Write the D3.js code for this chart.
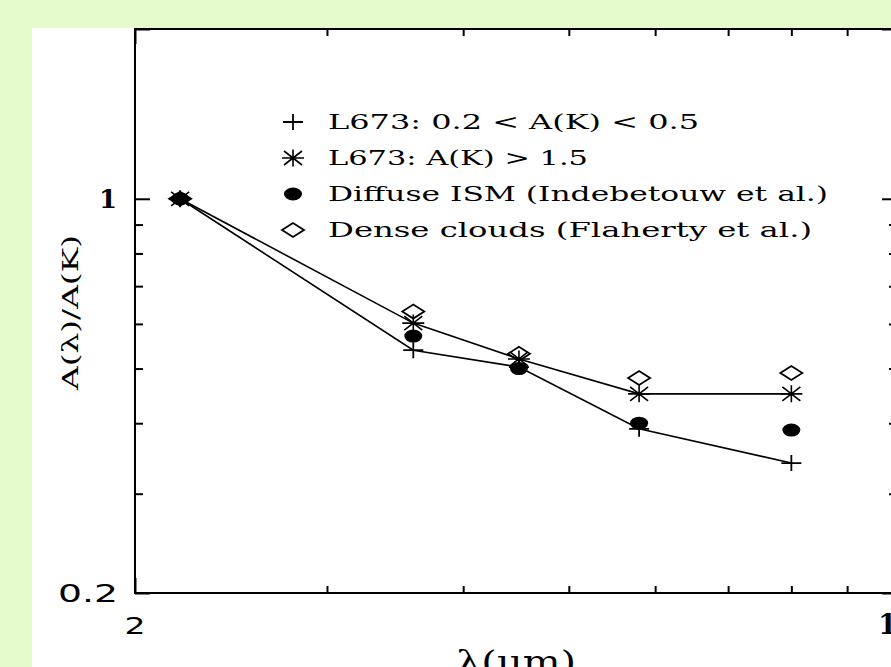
<!DOCTYPE html>
<html><head><meta charset="utf-8">
<script src="https://cdn.jsdelivr.net/npm/d3@7/dist/d3.min.js"></script>
<style>html,body{margin:0;padding:0;background:#e6fbcc;overflow:hidden}</style>
</head><body>
<script>
const wavelength = [2.2, 3.6, 4.5, 5.8, 8.0];
const lowAK   = [1, 0.539, 0.503, 0.391, 0.340];
const highAK  = [1, 0.602, 0.520, 0.451, 0.451];
const diffuse = [1, 0.571, 0.500, 0.400, 0.389];
const dense   = [1, 0.631, 0.531, 0.481, 0.491];
const xMajor = [2, 10], xMajorLabels = ["2", "10"];
const xMinor = [3, 4, 5, 6, 7, 8, 9];
const yMajor = [0.2, 1, 2], yMajorLabels = ["0.2", "1", ""];
const yMinor = [0.3, 0.4, 0.5, 0.6, 0.7, 0.8, 0.9];
const legendLabels = ["L673: 0.2 < A(K) < 0.5", "L673: A(K) > 1.5",
  "Diffuse ISM (Indebetouw et al.)", "Dense clouds (Flaherty et al.)"];

const W = 891, H = 667;
const L = 135, R = 897, T = 29, B = 593;
const svg = d3.select("body").append("svg").attr("width", W).attr("height", H);
svg.append("rect").attr("width", W).attr("height", H).attr("fill", "#e6fbcc");
svg.append("rect").attr("x", 32).attr("y", 28).attr("width", W).attr("height", H).attr("fill", "#fff");

const x = d3.scaleLog().domain([2, 10]).range([L, R]);
const y = d3.scaleLog().domain([0.2, 2]).range([B, T]);

// frame
svg.append("rect").attr("x", L).attr("y", T).attr("width", R - L).attr("height", B - T)
  .attr("fill", "none").attr("stroke", "#000").attr("stroke-width", 2);

function styleAxis(g){ g.select(".domain").remove(); g.selectAll("text").remove();
  g.selectAll("line").attr("stroke", "#000").attr("stroke-width", 2); }
svg.append("g").attr("transform", `translate(${L},0)`).call(d3.axisLeft(y).tickValues(yMajor).tickSize(-15)).call(styleAxis);
svg.append("g").attr("transform", `translate(${L},0)`).call(d3.axisLeft(y).tickValues(yMinor).tickSize(-8)).call(styleAxis);
svg.append("g").attr("transform", `translate(${R},0)`).call(d3.axisRight(y).tickValues(yMajor).tickSize(-15)).call(styleAxis);
svg.append("g").attr("transform", `translate(${R},0)`).call(d3.axisRight(y).tickValues(yMinor).tickSize(-8)).call(styleAxis);
svg.append("g").attr("transform", `translate(0,${B})`).call(d3.axisBottom(x).tickValues(xMajor).tickSize(-15)).call(styleAxis);
svg.append("g").attr("transform", `translate(0,${B})`).call(d3.axisBottom(x).tickValues(xMinor).tickSize(-7)).call(styleAxis);
svg.append("g").attr("transform", `translate(0,${T})`).call(d3.axisTop(x).tickValues(xMajor).tickSize(-15)).call(styleAxis);
svg.append("g").attr("transform", `translate(0,${T})`).call(d3.axisTop(x).tickValues(xMinor).tickSize(-7)).call(styleAxis);

// tick labels
yMajor.forEach((v, i) => {
  const s = yMajorLabels[i]; if (!s) return;
  const t = svg.append("text").attr("y", y(v) + 9).attr("text-anchor", "end").text(s);
  if (s === "1") t.attr("x", L - 18).attr("font-family", "DejaVu Serif").attr("font-weight", "bold").attr("font-size", 26);
  else t.attr("x", L - 17).attr("font-family", "DejaVu Sans").attr("font-size", 24).attr("textLength", 60).attr("lengthAdjust", "spacingAndGlyphs");
});
xMajor.forEach((v, i) => {
  const s = xMajorLabels[i];
  const t = svg.append("text").attr("x", x(v)).attr("y", 634).attr("text-anchor", "middle").text(s);
  if (s === "2") t.attr("font-family", "DejaVu Sans").attr("font-size", 23).attr("textLength", 21).attr("lengthAdjust", "spacingAndGlyphs");
  else t.attr("font-family", "DejaVu Serif").attr("font-weight", "bold").attr("font-size", 27);
});

// axis titles
svg.append("text").attr("x", x(Math.sqrt(20))).attr("y", 672).attr("text-anchor", "middle")
  .attr("font-family", "DejaVu Serif").attr("font-size", 30)
  .attr("textLength", 120).attr("lengthAdjust", "spacingAndGlyphs").text("λ(μm)");
svg.append("text").attr("transform", `translate(78,${(235+390)/2}) rotate(-90)`).attr("text-anchor", "middle")
  .attr("font-family", "DejaVu Serif").attr("font-size", 22).attr("textLength", 155).attr("lengthAdjust", "spacingAndGlyphs")
  .text("A(λ)/A(K)");

// symbols
function sym(g, type, cx, cy){
  const k = g.append("g").attr("transform", `translate(${cx},${cy})`);
  if (type === "plus") {
    k.append("path").attr("d", "M-10,0H10M0,-8V8").attr("stroke", "#000").attr("stroke-width", 1.8);
  } else if (type === "star") {
    k.append("path").attr("d", "M-11,0H11M0,-8.5V8.5M-9,-7L9,7M-9,7L9,-7").attr("stroke", "#000").attr("stroke-width", 1.6);
  } else if (type === "circle") {
    k.append("ellipse").attr("rx", 9).attr("ry", 6.5).attr("fill", "#000");
  } else if (type === "diamond") {
    k.append("path").attr("d", "M-11,0L0,-7L11,0L0,7Z").attr("fill", "none").attr("stroke", "#000").attr("stroke-width", 1.8);
  }
}

const line = d3.line().x(d => x(d[0])).y(d => y(d[1]));
const lowPts = wavelength.map((w, i) => [w, lowAK[i]]);
const highPts = wavelength.map((w, i) => [w, highAK[i]]);
svg.append("path").attr("d", line(lowPts)).attr("fill", "none").attr("stroke", "#000").attr("stroke-width", 1.6);
svg.append("path").attr("d", line(highPts)).attr("fill", "none").attr("stroke", "#000").attr("stroke-width", 1.6);

const series = [["plus", lowAK], ["star", highAK], ["circle", diffuse], ["diamond", dense]];
series.forEach(([type, vals]) => {
  vals.forEach((v, i) => sym(svg, type, x(wavelength[i]), y(v)));
});

// legend
const legY = [122, 158, 194, 230];
const legW = [371, 260, 500, 484];
series.forEach(([type], i) => {
  sym(svg, type, 293, legY[i]);
  svg.append("text").attr("x", 328).attr("y", legY[i] + 7)
    .attr("font-family", "DejaVu Serif").attr("font-size", 20)
    .attr("textLength", legW[i]).attr("lengthAdjust", "spacingAndGlyphs")
    .text(legendLabels[i]);
});
</script>
</body></html>
